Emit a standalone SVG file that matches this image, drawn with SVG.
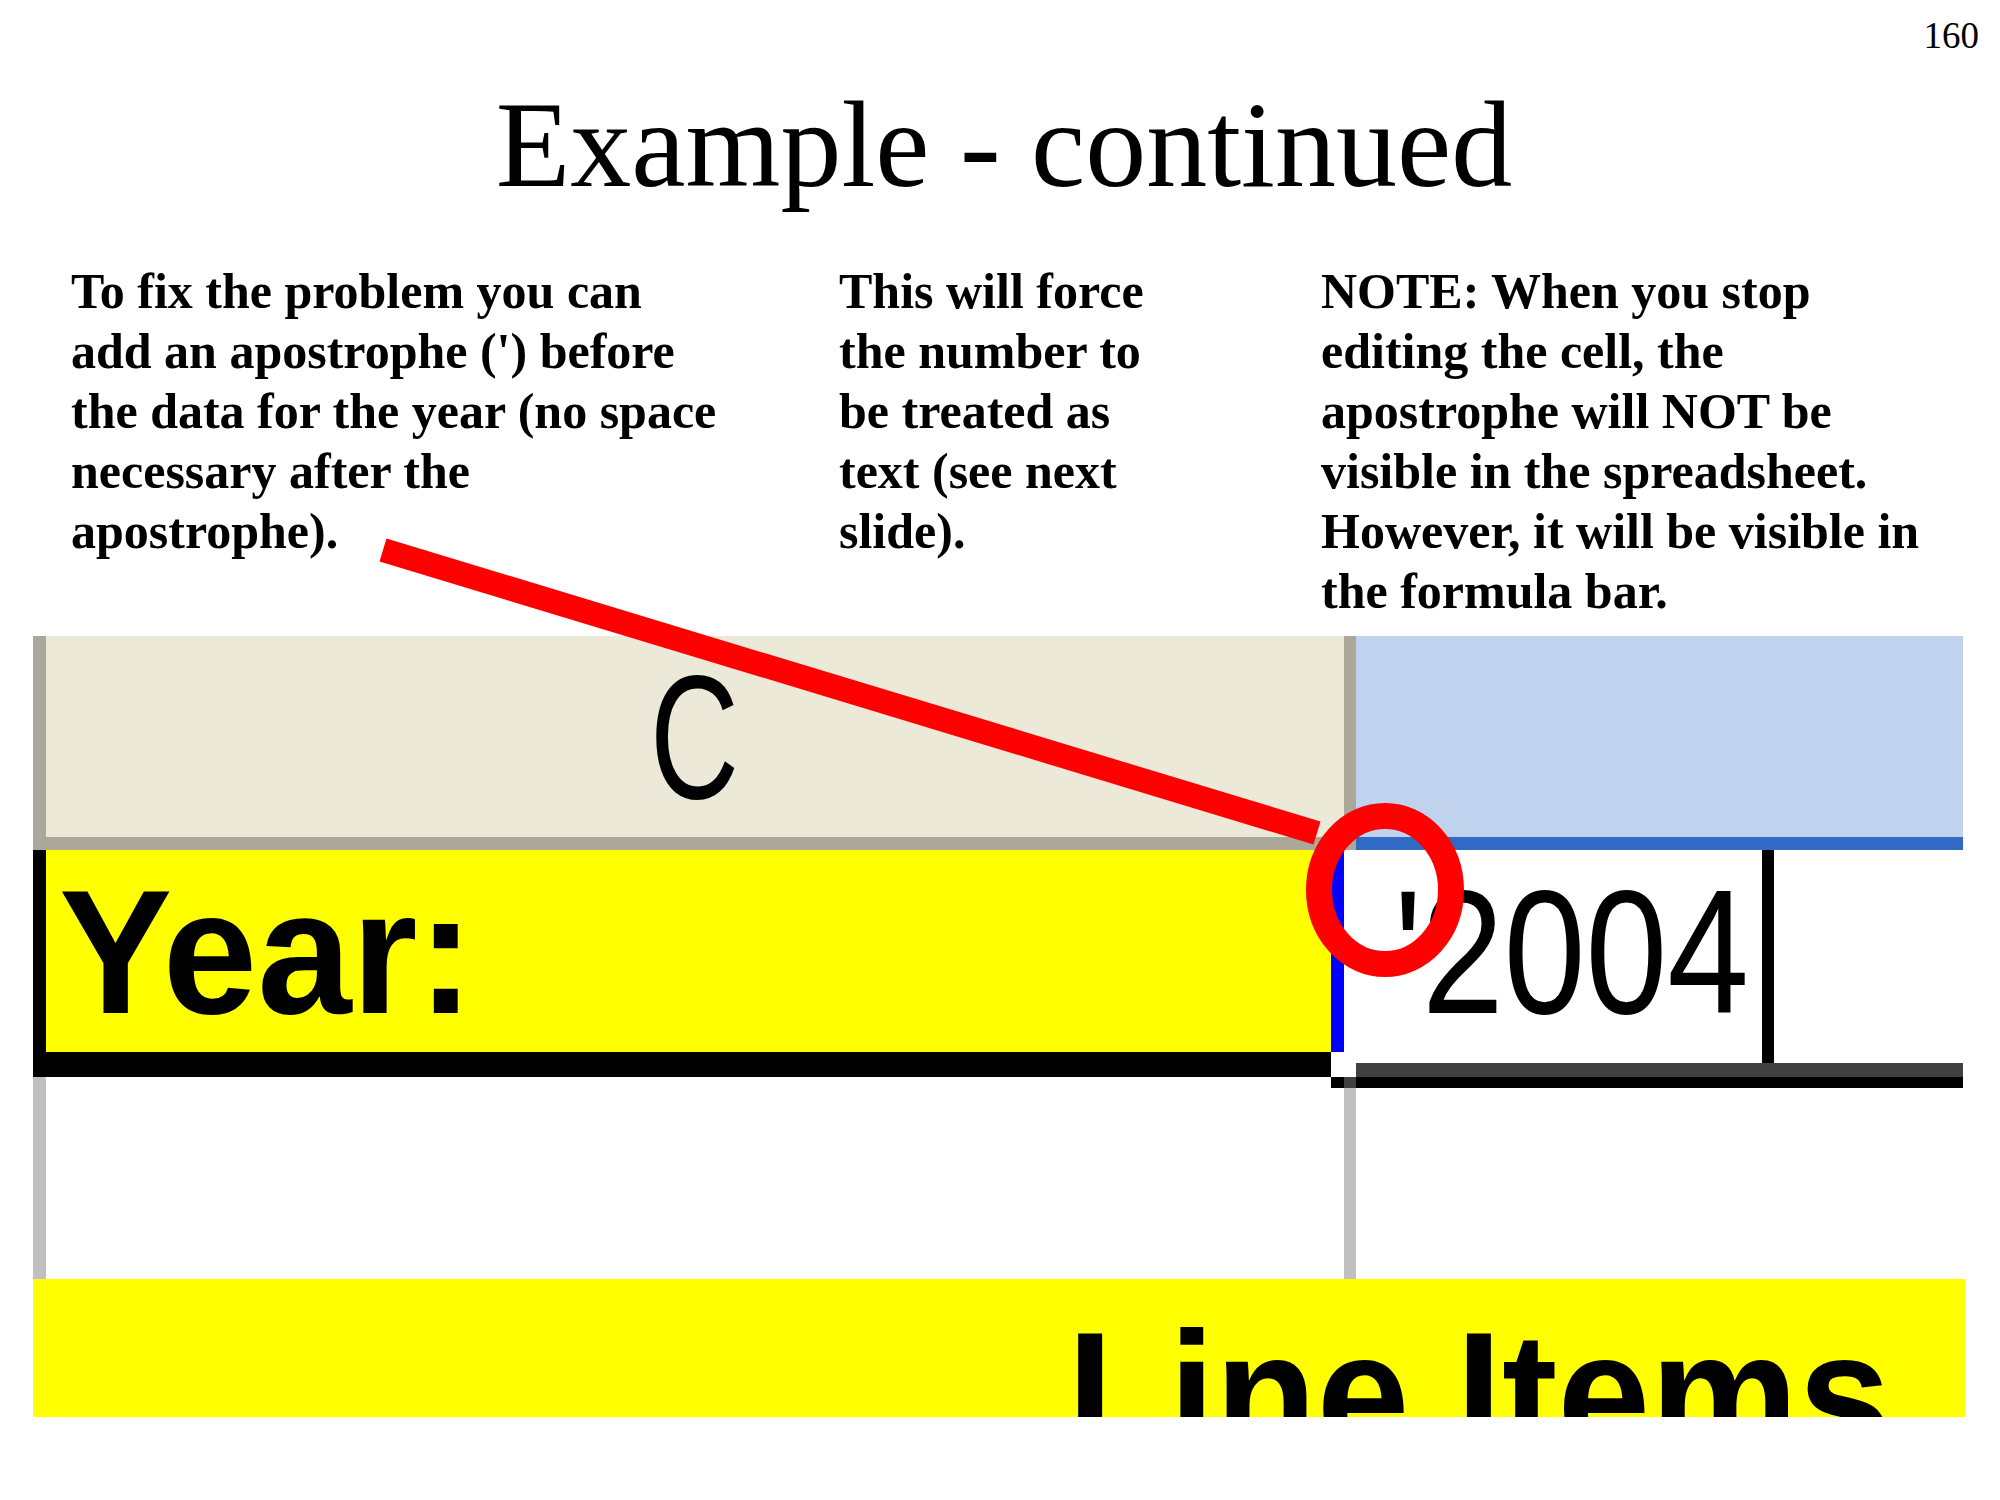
<svg xmlns="http://www.w3.org/2000/svg" width="2000" height="1500" viewBox="0 0 2000 1500">
<style>
.note{font-family:"Liberation Serif","Times New Roman",serif;font-weight:bold;font-size:50px;fill:#000}
.title{font-family:"Liberation Serif","Times New Roman",serif;font-size:122px;fill:#000}
.pg{font-family:"Liberation Serif","Times New Roman",serif;font-size:37px;fill:#000}
.px{font-family:"Liberation Sans","DejaVu Sans",sans-serif;font-size:176px;fill:#000}
.pxb{font-family:"Liberation Sans","DejaVu Sans",sans-serif;font-size:176px;font-weight:bold;fill:#000}
</style>
<defs>
<clipPath id="clipLI"><rect x="33" y="1279" width="1932" height="138"/></clipPath>
</defs>
<rect x="0" y="0" width="2000" height="1500" fill="#fff"/>
<g id="page-number"><text class="pg" x="1979" y="48" text-anchor="end">160</text></g>
<g id="title"><text class="title" x="1004" y="186" text-anchor="middle">Example - continued</text></g>
<g id="note-left">
<text class="note" x="71" y="308">To fix the problem you can</text>
<text class="note" x="71" y="368">add an apostrophe (') before</text>
<text class="note" x="71" y="428">the data for the year (no space</text>
<text class="note" x="71" y="488">necessary after the</text>
<text class="note" x="71" y="548">apostrophe).</text>
</g>
<g id="note-middle">
<text class="note" x="839" y="308">This will force</text>
<text class="note" x="839" y="368">the number to</text>
<text class="note" x="839" y="428">be treated as</text>
<text class="note" x="839" y="488">text (see next</text>
<text class="note" x="839" y="548">slide).</text>
</g>
<g id="note-right">
<text class="note" x="1321" y="308">NOTE: When you stop</text>
<text class="note" x="1321" y="368">editing the cell, the</text>
<text class="note" x="1321" y="428">apostrophe will NOT be</text>
<text class="note" x="1321" y="488">visible in the spreadsheet.</text>
<text class="note" x="1321" y="548">However, it will be visible in</text>
<text class="note" x="1321" y="608">the formula bar.</text>
</g>
<g id="spreadsheet">
<g id="header-row">
<rect x="46" y="636" width="1298" height="201" fill="#ECE9D8"/>
<rect x="33" y="636" width="13" height="214" fill="#ACA899"/>
<rect x="33" y="837" width="1311" height="13" fill="#ACA899"/>
<rect x="1344" y="636" width="12" height="214" fill="#ACA899"/>
<rect x="1356" y="636" width="607" height="201" fill="#C1D2EE"/>
<rect x="1356" y="837" width="607" height="13" fill="#316AC5"/>
<text class="px" x="650" y="798" textLength="89" lengthAdjust="spacingAndGlyphs">C</text>
</g>
<g id="year-row">
<rect x="46" y="850" width="1285" height="202" fill="#FFFF00"/>
<rect x="33" y="850" width="13" height="227" fill="#000"/>
<rect x="33" y="1052" width="1298" height="25" fill="#000"/>
<rect x="1331" y="850" width="13" height="202" fill="#0000FF"/>
<rect x="1344" y="850" width="619" height="213" fill="#fff"/>
<rect x="1762" y="850" width="12" height="213" fill="#000"/>
<rect x="1356" y="1063" width="607" height="14" fill="#404040"/>
<rect x="1331" y="1077" width="13" height="11" fill="#000"/>
<rect x="1344" y="1077" width="12" height="11" fill="#404040"/>
<rect x="1356" y="1077" width="607" height="11" fill="#000"/>
<text class="pxb" x="59" y="1013" textLength="415" lengthAdjust="spacingAndGlyphs">Year:</text>
<text class="px" x="1394" y="1013" textLength="355" lengthAdjust="spacingAndGlyphs">'2004</text>
</g>
<g id="empty-row">
<rect x="33" y="1077" width="13" height="202" fill="#C0C0C0"/>
<rect x="1344" y="1088" width="12" height="191" fill="#C0C0C0"/>
</g>
<g id="line-items-row">
<rect x="33" y="1279" width="1932" height="138" fill="#FFFF00"/>
<g clip-path="url(#clipLI)">
<text class="pxb" x="1067" y="1455" textLength="824" lengthAdjust="spacingAndGlyphs">Line Items</text>
</g>
</g>
</g>
<g id="connectors">
<line x1="383" y1="550" x2="1317" y2="833" stroke="#FF0000" stroke-width="24" stroke-linecap="butt"/>
</g>
<g id="highlight-circle">
<ellipse cx="1385" cy="890" rx="66" ry="74" fill="none" stroke="#FF0000" stroke-width="26"/>
</g>
</svg>
